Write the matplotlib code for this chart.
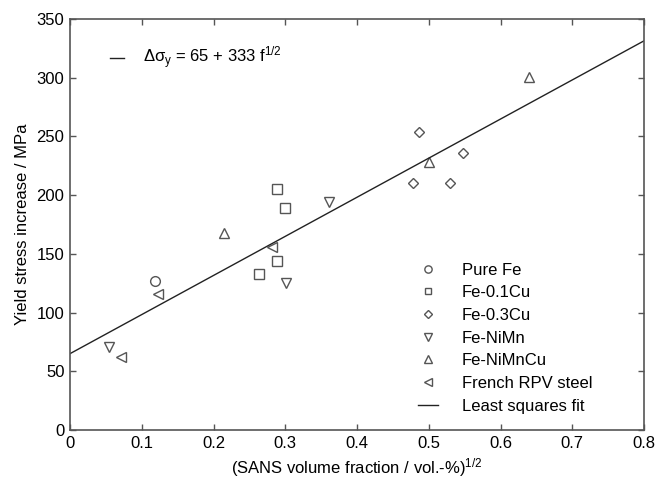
import matplotlib.pyplot as plt
import numpy as np

plt.rcParams['font.family'] = ['Liberation Sans', 'DejaVu Sans']
plt.rcParams['mathtext.fontset'] = 'custom'
plt.rcParams['mathtext.rm'] = 'Liberation Sans'
plt.rcParams['mathtext.it'] = 'Liberation Sans'

# data: sqrt(SANS volume fraction), yield stress increase (MPa)
pure_fe_x = [0.119]
pure_fe_y = [127]
cu01_x = [0.263, 0.288, 0.288, 0.299]
cu01_y = [133, 144, 205, 189]
cu03_x = [0.478, 0.487, 0.529, 0.548]
cu03_y = [210, 254, 210, 236]
nimn_x = [0.055, 0.301, 0.361]
nimn_y = [71, 125, 194]
nimncu_x = [0.215, 0.500, 0.640]
nimncu_y = [168, 228, 301]
rpv_x = [0.071, 0.122, 0.282]
rpv_y = [62, 116, 156]
fit_a, fit_b = 65, 333

grey = '#555555'
fig = plt.figure(figsize=(6.59, 4.79), dpi=100)
ax = fig.add_axes([70 / 659, 49 / 479, 574 / 659, 411 / 479])

kw = dict(linestyle='none', markerfacecolor='none', markeredgecolor=grey,
          markeredgewidth=1.0)
ax.plot(pure_fe_x, pure_fe_y, marker='o', markersize=7, label='Pure Fe', **kw)
ax.plot(cu01_x, cu01_y, marker='s', markersize=6.5, label='Fe-0.1Cu', **kw)
ax.plot(cu03_x, cu03_y, marker='D', markersize=5.5, label='Fe-0.3Cu', **kw)
ax.plot(nimn_x, nimn_y, marker='v', markersize=7.5, label='Fe-NiMn', **kw)
ax.plot(nimncu_x, nimncu_y, marker='^', markersize=7.5, label='Fe-NiMnCu', **kw)
ax.plot(rpv_x, rpv_y, marker='<', markersize=7.5, label='French RPV steel', **kw)

xs = np.linspace(0, 0.8, 50)
ax.plot(xs, fit_a + fit_b * xs, color='#222222', lw=1.0, label='Least squares fit')

ax.set_xlim(0, 0.8)
ax.set_ylim(0, 350)
ax.set_xticks(np.arange(0, 0.81, 0.1))
ax.set_xticklabels(['0', '0.1', '0.2', '0.3', '0.4', '0.5', '0.6', '0.7', '0.8'])
ax.set_yticks(np.arange(0, 351, 50))
ax.tick_params(direction='in', top=True, right=True, length=4, width=1,
               color=grey, labelsize=12, pad=4)
for s in ax.spines.values():
    s.set_color(grey)
    s.set_linewidth(1.2)

ax.set_xlabel('(SANS volume fraction / vol.-%)$^{1/2}$', fontsize=12, labelpad=4)
ax.set_ylabel('Yield stress increase / MPa', fontsize=12, labelpad=5)

leg = ax.legend(loc='lower left', bbox_to_anchor=(0.606, 0.04), frameon=False,
                fontsize=12, handlelength=1.2, handletextpad=1.44,
                labelspacing=0.46, borderpad=0, borderaxespad=0,
                markerscale=0.75)

ax.plot([0.056, 0.075], [317, 317], color='#222222', lw=1.0)
ax.text(0.102, 317, r'$\Delta\sigma_y$ = 65 + 333 f$^{1/2}$', fontsize=12,
        va='center', ha='left')

fig.savefig('out.png', dpi=100)
